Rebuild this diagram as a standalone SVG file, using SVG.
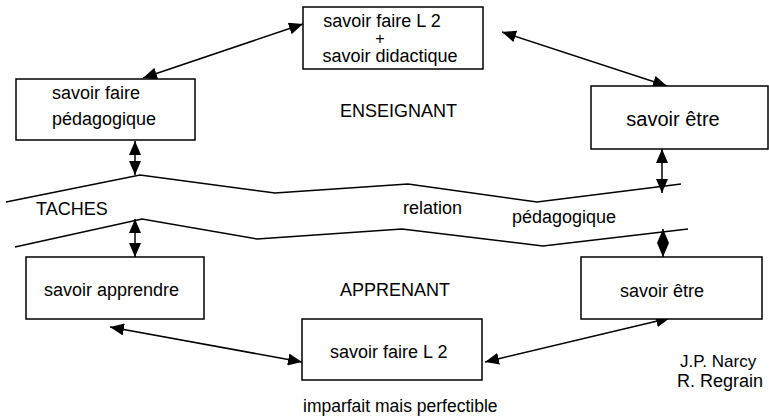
<svg xmlns="http://www.w3.org/2000/svg" width="769" height="417" viewBox="0 0 769 417">
<style>
  .box { fill: #fff; stroke: #000; stroke-width: 1.5; }
  .t { font-family: "Liberation Sans", Arial, sans-serif; font-size: 18px; fill: #000; }
  .c { stroke: #000; stroke-width: 1.5; fill: none; marker-start: url(#ah); marker-end: url(#ah); }
  .wave { stroke: #000; stroke-width: 1.5; fill: none; }
</style>
<defs>
  <marker id="ah" markerUnits="userSpaceOnUse" markerWidth="14" markerHeight="12" refX="14" refY="6" orient="auto-start-reverse" viewBox="0 0 14 12">
    <path d="M0,0 L14,6 L0,12 z" fill="#000"/>
  </marker>
</defs>
<rect width="769" height="417" fill="#fff"/>

<g id="waves">
  <polyline class="wave" points="6,202 140,175 275,193 408,184 537,202 681,184"/>
  <polyline class="wave" points="15,247 142,219 257,239 402,229 543,246 688,229"/>
</g>

<g id="connectors">
  <line class="c" x1="143" y1="78" x2="303" y2="24"/>
  <line class="c" x1="502" y1="32" x2="667" y2="86"/>
  <line class="c" x1="135" y1="141" x2="135" y2="175"/>
  <line class="c" x1="662" y1="149" x2="662" y2="193"/>
  <line class="c" x1="135" y1="219" x2="135" y2="257"/>
  <line class="c" x1="663" y1="229" x2="663" y2="257"/>
  <line class="c" x1="110" y1="327" x2="302" y2="362"/>
  <line class="c" x1="485" y1="362" x2="670" y2="318"/>
</g>

<g id="top">
  <rect class="box" x="303" y="7" width="180" height="62"/>
  <text class="t" x="382" y="27" text-anchor="middle">savoir faire L 2</text>
  <text class="t" x="380" y="43.5" text-anchor="middle" style="font-size:16px">+</text>
  <text class="t" x="390" y="62" text-anchor="middle">savoir didactique</text>
</g>

<g id="pedago">
  <rect class="box" x="16" y="79" width="179" height="61"/>
  <text class="t" x="52" y="99">savoir faire</text>
  <text class="t" x="52" y="125">pédagogique</text>
</g>

<g id="etre-top">
  <rect class="box" x="591" y="86" width="177" height="63"/>
  <text class="t" x="673" y="126" text-anchor="middle" style="font-size:20px">savoir être</text>
</g>

<g id="apprendre">
  <rect class="box" x="26" y="257" width="178" height="62"/>
  <text class="t" x="44" y="296">savoir apprendre</text>
</g>

<g id="faire-l2">
  <rect class="box" x="302" y="319" width="180" height="61"/>
  <text class="t" x="330" y="358">savoir faire L 2</text>
</g>

<g id="etre-bottom">
  <rect class="box" x="581" y="257" width="181" height="62"/>
  <text class="t" x="620" y="297">savoir être</text>
</g>

<g id="labels">
  <text class="t" x="340" y="117">ENSEIGNANT</text>
  <text class="t" x="36" y="215">TACHES</text>
  <text class="t" x="403" y="214">relation</text>
  <text class="t" x="512" y="223">pédagogique</text>
  <text class="t" x="340" y="296">APPRENANT</text>
  <text class="t" x="680" y="367" style="font-size:17px">J.P. Narcy</text>
  <text class="t" x="677" y="387">R. Regrain</text>
  <text class="t" x="303" y="412" style="font-size:17.5px">imparfait mais perfectible</text>
</g>
</svg>
